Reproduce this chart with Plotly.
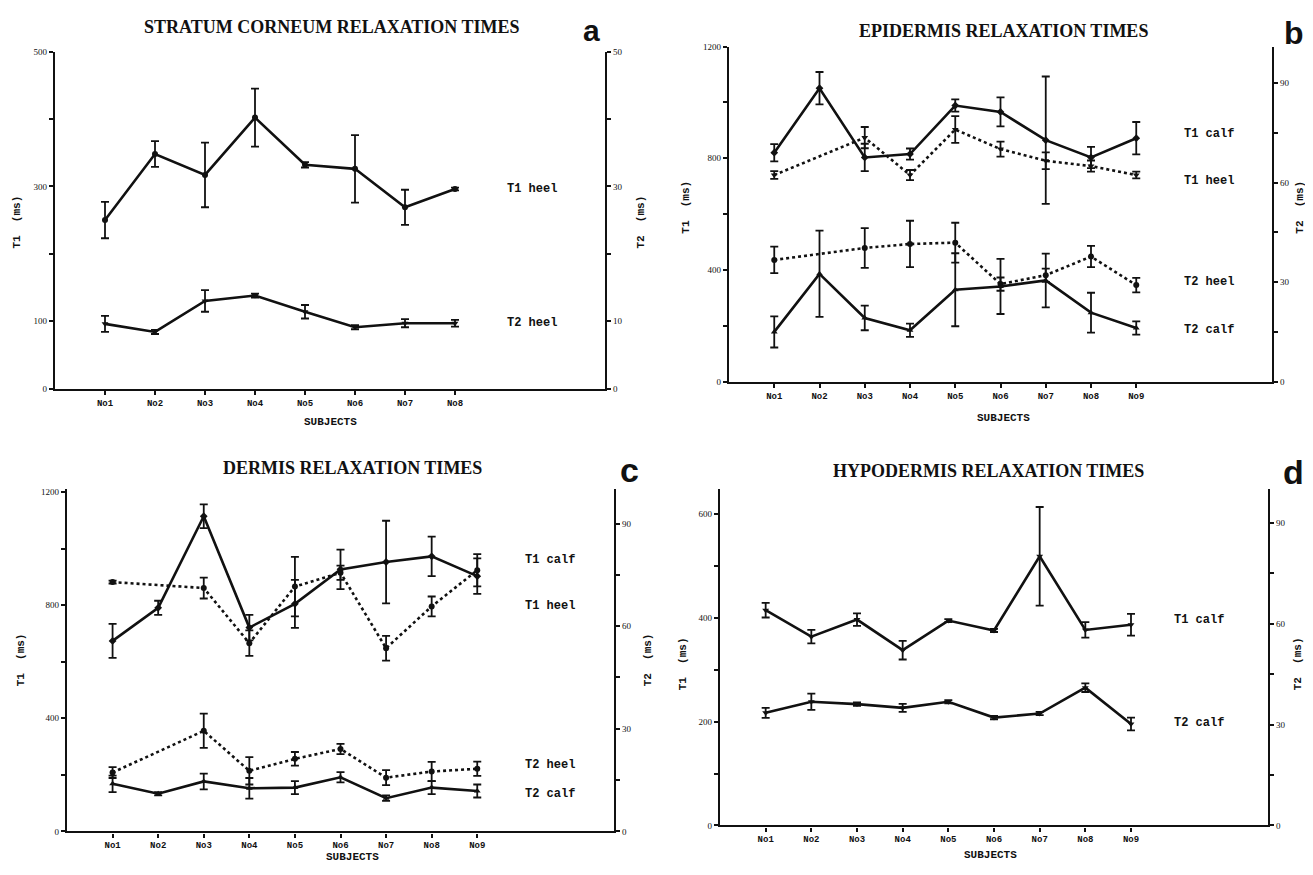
import plotly.graph_objects as go

# ---------------- data ----------------
subjects8 = ["No1", "No2", "No3", "No4", "No5", "No6", "No7", "No8"]
subjects9 = ["No1", "No2", "No3", "No4", "No5", "No6", "No7", "No8", "No9"]

# (a) stratum corneum
a_T1_heel = [250, 348, 317, 402, 332, 326, 269, 296]
a_T1_heel_err = [27, 19, 48, 43, 4, 50, 26, 2]
a_T2_heel = [9.6, 8.4, 13.0, 13.8, 11.4, 9.1, 9.7, 9.7]
a_T2_heel_err = [1.2, 0.3, 1.6, 0.3, 1.0, 0.3, 0.6, 0.5]

# (b) epidermis
b_T1_calf = [820, 1051, 803, 815, 989, 966, 865, 803, 872]
b_T1_calf_err = [31, 58, 49, 20, 22, 52, 228, 38, 58]
b_T1_heel = [740, None, 874, 740, 903, 833, 791, 772, 740]
b_T1_heel_err = [14, 0, 38, 18, 48, 27, 30, 20, 12]
b_T2_heel = [36.7, None, 40.3, 41.5, 41.9, 29.4, 32.1, 37.7, 29.1]
b_T2_heel_err = [4, 0, 6, 7, 6, 2, 2, 3.2, 2.2]
b_T2_calf = [15.0, 32.5, 19.2, 15.5, 27.7, 28.7, 30.5, 20.8, 16.2]
b_T2_calf_err = [4.7, 13, 3.7, 2, 11, 8.3, 8.1, 6, 2]

# (c) dermis
c_T1_calf = [674, 791, 1115, 721, 805, 927, 953, 973, 903]
c_T1_calf_err = [60, 25, 42, 45, 85, 70, 146, 70, 63]
c_T1_heel = [882, None, 861, 666, 866, 915, 648, 796, 924]
c_T1_heel_err = [5, 0, 37, 45, 105, 25, 44, 35, 57]
c_T2_heel = [17.2, None, 29.4, 17.7, 21.2, 24.1, 15.7, 17.5, 18.3]
c_T2_heel_err = [1.6, 0, 5, 4, 2, 1.5, 2.2, 2.8, 2.1]
c_T2_calf = [13.9, 11.0, 14.6, 12.6, 12.8, 15.8, 9.7, 12.8, 11.8]
c_T2_calf_err = [2.4, 0.5, 2.3, 3, 1.9, 1.5, 0.8, 1.9, 1.9]

# (d) hypodermis
d_T1_calf = [415, 364, 397, 338, 395, 376, 519, 377, 387]
d_T1_calf_err = [14, 13, 12, 18, 3, 3, 95, 15, 21]
d_T2_calf = [33.5, 36.8, 36.1, 35.0, 36.8, 32.1, 33.3, 41.0, 30.2]
d_T2_calf_err = [1.5, 2.4, 0.5, 1.2, 0.5, 0.5, 0.5, 1.3, 1.9]

# ---------------- styling ----------------
OFF = 8                     # default page margin of the html body
W, H = 1313 - 2 * OFF, 875 - 2 * OFF
MONO = "Liberation Mono"
SERIF = "Liberation Serif"
SANS = "Liberation Sans"
BLACK = "#111111"

fig = go.Figure()


def add_series(x, y, err, xa, ya, dash, symbol):
    fig.add_trace(go.Scatter(
        x=x, y=y, xaxis=xa, yaxis=ya, mode="lines+markers",
        connectgaps=True, showlegend=False,
        line=dict(color=BLACK, width=2.6, dash=dash),
        marker=dict(color=BLACK, size=6, symbol=symbol),
        error_y=dict(type="data", array=err, color=BLACK, thickness=1.8, width=4),
    ))


xs8 = list(range(1, 9))
xs9 = list(range(1, 10))

# panel a
add_series(xs8, a_T1_heel, a_T1_heel_err, "x", "y", "solid", "circle")
add_series(xs8, a_T2_heel, a_T2_heel_err, "x", "y2", "solid", "triangle-down")
# panel b
add_series(xs9, b_T1_calf, b_T1_calf_err, "x2", "y3", "solid", "diamond")
add_series(xs9, b_T1_heel, b_T1_heel_err, "x2", "y3", "dot", "triangle-down")
add_series(xs9, b_T2_heel, b_T2_heel_err, "x2", "y4", "dot", "circle")
add_series(xs9, b_T2_calf, b_T2_calf_err, "x2", "y4", "solid", "triangle-up")
# panel c
add_series(xs9, c_T1_calf, c_T1_calf_err, "x3", "y5", "solid", "diamond")
add_series(xs9, c_T1_heel, c_T1_heel_err, "x3", "y5", "dot", "circle")
add_series(xs9, c_T2_heel, c_T2_heel_err, "x3", "y6", "dot", "circle")
add_series(xs9, c_T2_calf, c_T2_calf_err, "x3", "y6", "solid", "triangle-up")
# panel d
add_series(xs9, d_T1_calf, d_T1_calf_err, "x4", "y7", "solid", "triangle-down")
add_series(xs9, d_T2_calf, d_T2_calf_err, "x4", "y8", "solid", "triangle-down")

tickfont_x = dict(family=MONO, size=9, color=BLACK, weight="bold")
tickfont_y = dict(family=SERIF, size=9, color=BLACK)


def xaxis(domain, n, yanchor, rng):
    return dict(domain=domain, anchor=yanchor, range=rng,
                tickvals=list(range(1, n + 1)),
                ticktext=[f"No{i}" for i in range(1, n + 1)],
                showline=True, linecolor=BLACK, linewidth=2.4,
                ticks="outside", ticklen=4, tickwidth=1.5, tickcolor=BLACK,
                showgrid=False, zeroline=False, tickfont=tickfont_x, fixedrange=True)


def yaxis(domain, xanchor, rng, tickvals, labeled):
    return dict(domain=domain, anchor=xanchor, range=rng,
                tickvals=tickvals,
                ticktext=[str(v) if v in labeled else "" for v in tickvals],
                showline=True, linecolor=BLACK, linewidth=2.4,
                ticks="outside", ticklen=4, tickwidth=1.5, tickcolor=BLACK,
                showgrid=False, zeroline=False, tickfont=tickfont_y, fixedrange=True)


def yaxis_r(overlay, xanchor, rng, tickvals, labeled):
    d = yaxis(None, xanchor, rng, tickvals, labeled)
    d.pop("domain")
    d.update(overlaying=overlay, side="right")
    return d


def px_x(p):
    return (p - OFF) / W


def px_y(p):
    return 1 - (p - OFF) / H


dom_a_x = [px_x(55), px_x(605)]
dom_a_y = [px_y(388), px_y(47)]
dom_b_x = [px_x(729), px_x(1272)]
dom_b_y = [px_y(381), px_y(42)]
dom_c_x = [px_x(67), px_x(614)]
dom_c_y = [px_y(836), px_y(490)]
dom_d_x = [px_x(720), px_x(1268)]
dom_d_y = [px_y(830), px_y(490)]

fig.update_layout(
    width=W, height=H, autosize=False,
    margin=dict(l=0, r=0, t=0, b=0),
    paper_bgcolor="white", plot_bgcolor="white",
    xaxis=xaxis(dom_a_x, 8, "y", [0, 11]),
    yaxis=yaxis(dom_a_y, "x", [0, 500], [0, 100, 200, 300, 400, 500], [0, 100, 300, 500]),
    yaxis2=yaxis_r("y", "x", [0, 50], [0, 10, 20, 30, 40, 50], [0, 10, 30, 50]),
    xaxis2=xaxis(dom_b_x, 9, "y3", [0, 12]),
    yaxis3=yaxis(dom_b_y, "x2", [0, 1200], list(range(0, 1201, 200)), [0, 400, 800, 1200]),
    yaxis4=yaxis_r("y3", "x2", [0, 101], list(range(0, 91, 15)), [0, 30, 60, 90]),
    xaxis3=xaxis(dom_c_x, 9, "y5", [0, 12]),
    yaxis5=yaxis(dom_c_y, "x3", [0, 1210], list(range(0, 1201, 200)), [0, 400, 800, 1200]),
    yaxis6=yaxis_r("y5", "x3", [0, 100], list(range(0, 91, 15)), [0, 30, 60, 90]),
    xaxis4=xaxis(dom_d_x, 9, "y7", [0, 12]),
    yaxis7=yaxis(dom_d_y, "x4", [0, 648], list(range(0, 601, 100)), [0, 200, 400, 600]),
    yaxis8=yaxis_r("y7", "x4", [0, 100], list(range(0, 91, 15)), [0, 30, 60, 90]),
)

ann = []


def paper_text(text, x, y, font, angle=0):
    ann.append(dict(text=text, x=px_x(x), y=px_y(y), xref="paper", yref="paper",
                    showarrow=False, font=font, textangle=angle,
                    xanchor="center", yanchor="middle"))


title_font = dict(family=SERIF, size=18, color=BLACK, weight="bold")
letter_font = dict(family=SANS, size=34, color=BLACK, weight="bold")
label_font = dict(family=MONO, size=11, color=BLACK, weight="bold")
series_font = dict(family=MONO, size=12, color=BLACK, weight="bold")

paper_text("STRATUM CORNEUM RELAXATION TIMES", 332, 22, title_font)
paper_text("EPIDERMIS RELAXATION TIMES", 1003, 26, title_font)
paper_text("DERMIS RELAXATION TIMES", 352, 468, title_font)
paper_text("HYPODERMIS RELAXATION TIMES", 988, 471, title_font)

paper_text("a", 591, 26, dict(family=SANS, size=30, color=BLACK, weight="bold"))
paper_text("b", 1294, 28, dict(family=SANS, size=32, color=BLACK, weight="bold"))
paper_text("c", 629, 470, letter_font)
paper_text("d", 1293, 472, letter_font)

paper_text("SUBJECTS", 330, 422, label_font)
paper_text("SUBJECTS", 1003, 418, label_font)
paper_text("SUBJECTS", 352, 862, label_font)
paper_text("SUBJECTS", 990, 860, label_font)

paper_text("T1  (ms)", 17, 220, label_font, -90)
paper_text("T2  (ms)", 641, 220, label_font, -90)
paper_text("T1  (ms)", 686, 205, label_font, -90)
paper_text("T2  (ms)", 1300, 205, label_font, -90)
paper_text("T1  (ms)", 21, 663, label_font, -90)
paper_text("T2  (ms)", 648, 663, label_font, -90)
paper_text("T1  (ms)", 683, 667, label_font, -90)
paper_text("T2  (ms)", 1298, 667, label_font, -90)


def series_label(text, x, y, xref, yref):
    ann.append(dict(text=text, x=x, y=y, xref=xref, yref=yref, showarrow=False,
                    font=series_font, xanchor="left", yanchor="middle"))


series_label("T1 heel", 9.0, 296, "x", "y")
series_label("T2 heel", 9.0, 9.7, "x", "y2")
series_label("T1 calf", 10.0, 887, "x2", "y3")
series_label("T1 heel", 10.0, 717, "x2", "y3")
series_label("T2 heel", 10.0, 30, "x2", "y4")
series_label("T2 calf", 10.0, 15.6, "x2", "y4")
series_label("T1 calf", 10.0, 959, "x3", "y5")
series_label("T1 heel", 10.0, 798, "x3", "y5")
series_label("T2 heel", 10.0, 19.5, "x3", "y6")
series_label("T2 calf", 10.0, 11, "x3", "y6")
series_label("T1 calf", 9.9, 396, "x4", "y7")
series_label("T2 calf", 9.9, 30.6, "x4", "y8")

fig.update_layout(annotations=ann)
fig.write_html("out.html")
